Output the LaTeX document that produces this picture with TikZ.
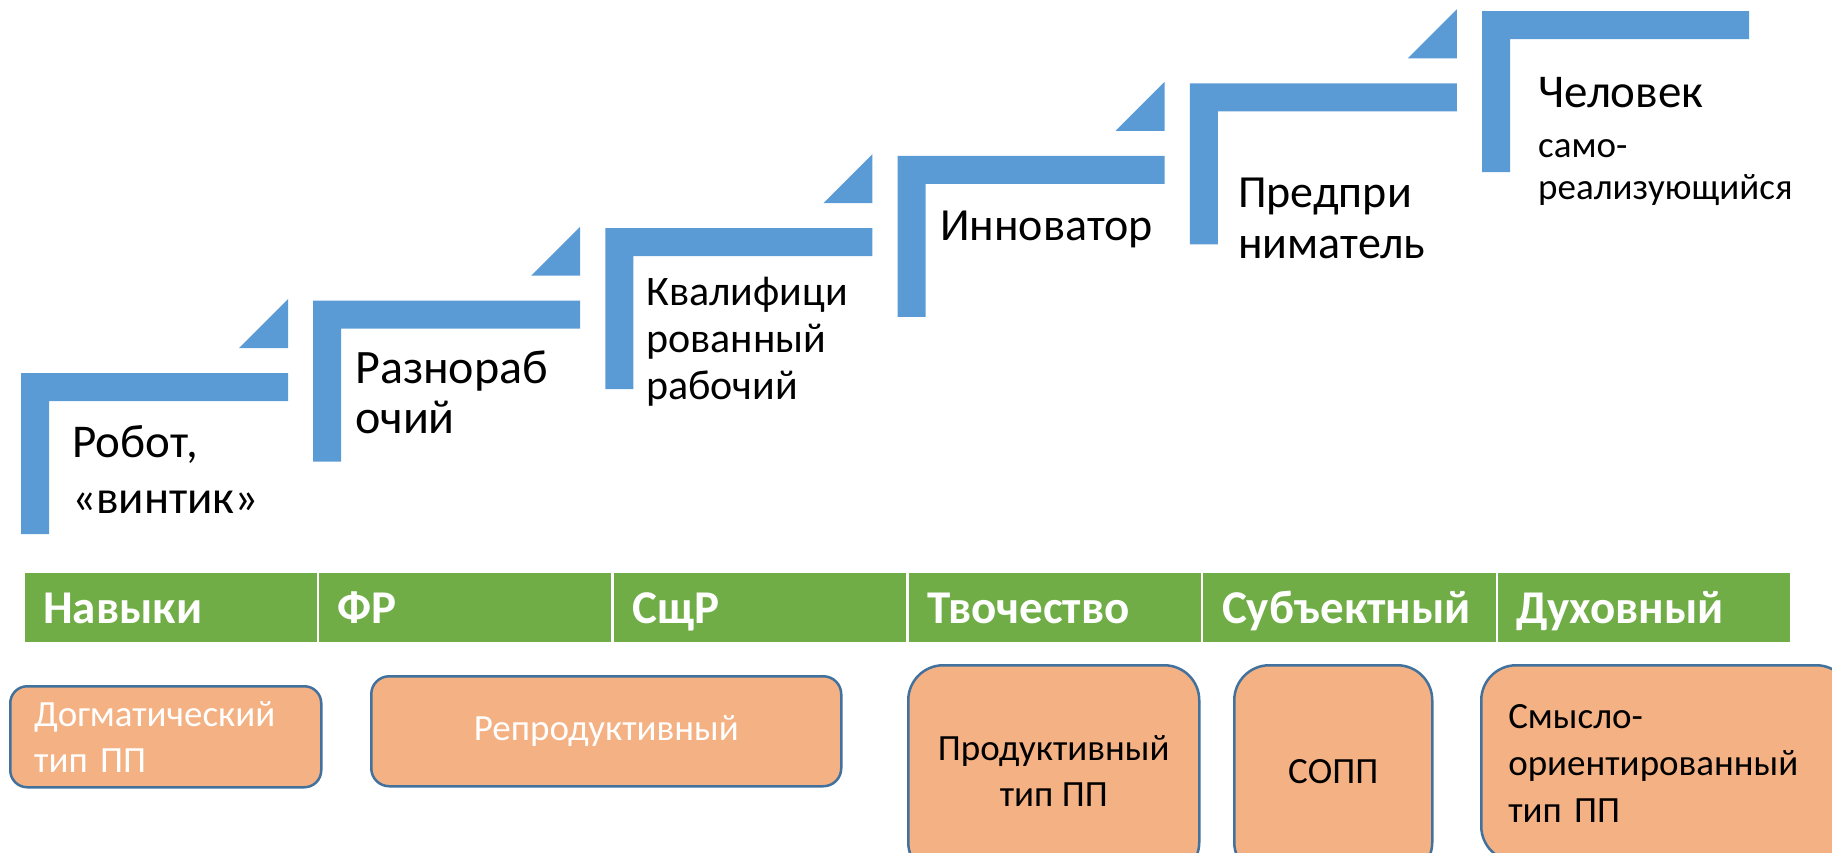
\documentclass[tikz,border=0pt]{standalone}
\usepackage{fontspec}
\setmainfont{Carlito}
\definecolor{stepblue}{HTML}{5B9BD5}
\definecolor{bargreen}{HTML}{70AD47}
\definecolor{boxorange}{HTML}{F4B183}
\definecolor{boxline}{HTML}{41719C}
\begin{document}
\begin{tikzpicture}[x=1pt, y=-1pt,
	stair/.style={fill=stepblue},
	steptext/.style={anchor=base west, align=left, inner sep=0, font=\fontsize{47}{56}\selectfont},
	cell/.style={anchor=north west, fill=bargreen, draw=white, line width=2.5pt, minimum width=294.7, minimum height=72,
		text width=254.7, inner xsep=20, inner ysep=0, text height=32, text depth=0, align=left,
		text=white, font=\bfseries\fontsize{47}{56}\selectfont},
	pp/.style={anchor=north west, fill=boxorange, draw=boxline, line width=2.5pt, inner ysep=0,
		align=center, font=\fontsize{37}{46}\selectfont}]
	\useasboundingbox (0,0) rectangle (1832,852);
	%ступени
	\fill[stair] (21,373)     -- ++(267,0) -- ++(0,28) -- ++(-239,0) -- ++(0,133) -- ++(-28,0) -- cycle;
	\fill[stair] (313.2,300.6) -- ++(267,0) -- ++(0,28) -- ++(-239,0) -- ++(0,133) -- ++(-28,0) -- cycle;
	\fill[stair] (605.4,228.2) -- ++(267,0) -- ++(0,28) -- ++(-239,0) -- ++(0,133) -- ++(-28,0) -- cycle;
	\fill[stair] (897.6,155.8) -- ++(267,0) -- ++(0,28) -- ++(-239,0) -- ++(0,133) -- ++(-28,0) -- cycle;
	\fill[stair] (1189.8,83.4) -- ++(267,0) -- ++(0,28) -- ++(-239,0) -- ++(0,133) -- ++(-28,0) -- cycle;
	\fill[stair] (1482,11)     -- ++(267,0) -- ++(0,28) -- ++(-239,0) -- ++(0,133) -- ++(-28,0) -- cycle;
	\fill[stair] (288,348)     -- ++(0,-49) -- ++(-49,49) -- cycle;
	\fill[stair] (580.2,275.6) -- ++(0,-49) -- ++(-49,49) -- cycle;
	\fill[stair] (872.4,203.2) -- ++(0,-49) -- ++(-49,49) -- cycle;
	\fill[stair] (1164.6,130.8) -- ++(0,-49) -- ++(-49,49) -- cycle;
	\fill[stair] (1456.8,58.4) -- ++(0,-49) -- ++(-49,49) -- cycle;
	%подписи (base = последняя строка)
	\node[steptext] (robot) at (72,513) {Робот,\\«винтик»};
	\node[steptext, font=\fontsize{48}{50}\selectfont] (raznorab) at (355,433) {Разнораб\\очий};
	\node[steptext, font=\fontsize{42}{47}\selectfont] (kvalif) at (646,399) {Квалифици\\рованный\\рабочий};
	\node[steptext, font=\fontsize{46}{50}\selectfont] (innovator) at (940,240) {Инноватор};
	\node[steptext, font=\fontsize{46}{51}\selectfont] (predpr) at (1238,258) {Предпри\\ниматель};
	\node[steptext] (chelovek) at (1538,107) {Человек};
	\node[steptext, font=\fontsize{37}{42}\selectfont] (samoreal) at (1538,199) {само-\\реализующийся};
	%уровни
	\node[cell] (navyki) at (22,570)     {Навыки};
	\node[cell] (fr)     at (316.7,570)  {ФР};
	\node[cell] (sshr)   at (611.4,570)  {СщР};
	\node[cell] (tvor)   at (906.1,570)  {Твочество};
	\node[cell] (subj)   at (1200.8,570) {Субъектный};
	\node[cell] (duh)    at (1495.5,570) {Духовный};
	%типы ПП
	\node[pp, minimum width=311, minimum height=101, text width=263, inner xsep=24, align=left, text=white, rounded corners=17]
		(dogma) at (9,685) {Догматический\\тип ПП};
	\node[pp, minimum width=470, minimum height=110, text=white, rounded corners=18]
		(repro) at (370,675) {Репродуктивный};
	\node[pp, minimum width=291, minimum height=212, rounded corners=35]
		(produkt) at (907,664) {Продуктивный\\тип ПП};
	\node[pp, minimum width=198, minimum height=212, rounded corners=35]
		(sopp) at (1233,664) {СОПП};
	\node[pp, minimum width=370, minimum height=196, text width=316, inner xsep=27, align=left, rounded corners=35,
		font=\fontsize{37}{47}\selectfont]
		(smysl) at (1480,664) {Смысло-\\ориентированный\\тип ПП};
\end{tikzpicture}
\end{document}
